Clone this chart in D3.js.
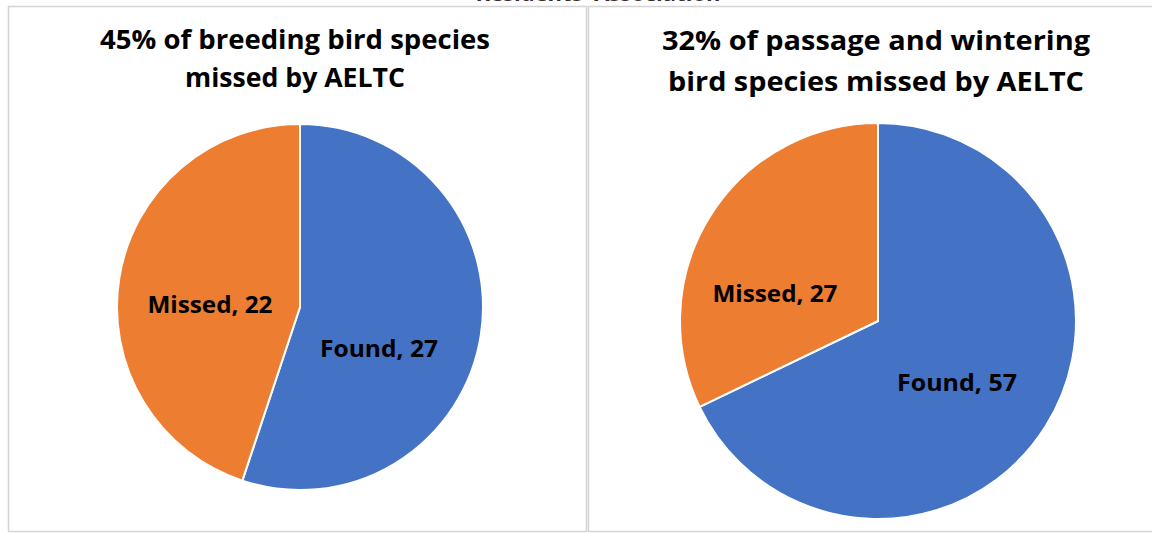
<!DOCTYPE html>
<html>
<head>
<meta charset="utf-8">
<script src="https://cdn.jsdelivr.net/npm/d3@7"></script>
<style>
  body { margin: 0; background: #fff; }
  text { font-family: "Open Sans", "Noto Sans", sans-serif; font-weight: bold; }
</style>
</head>
<body>
<svg id="chart" width="1152" height="534"></svg>
<script>
// chart data
const categories = ["Found", "Missed"];
const breedingValues = [27, 22];
const passageValues = [57, 27];
const breedingTitle = ["45% of breeding bird species", "missed by AELTC"];
const passageTitle = ["32% of passage and wintering", "bird species missed by AELTC"];
const colors = ["#4472C4", "#ED7D31"];

const svg = d3.select("#chart");

// scrap of the page heading above, cut off at the top in the source too
svg.append("text")
  .attr("x", 598).attr("y", 1)
  .attr("text-anchor", "middle")
  .attr("font-size", "22px")
  .attr("fill", "#3a2a26")
  .attr("font-family", "Liberation Serif, serif")
  .text("Residents' Association");

// squeeze text into a width, Calibri-ish
function squeeze(sel, width) {
  sel.attr("textLength", width).attr("lengthAdjust", "spacingAndGlyphs");
}

const panels = [
  { x0: 8.5, x1: 586.5, values: breedingValues, title: breedingTitle,
    cx: 300, cy: 307, r: 183, tcx: 295,
    titleY: [49, 87], titleW: [390, 220],
    labelPos: [[379, 348], [210, 304]], labelW: [118, 125] },
  { x0: 588.5, x1: 1160, values: passageValues, title: passageTitle,
    cx: 878, cy: 321, r: 198, tcx: 876,
    titleY: [50, 91], titleW: [428, 416],
    labelPos: [[957, 382], [775, 293]], labelW: [120, 125] }
];

panels.forEach(p => {
  svg.append("rect")
    .attr("x", p.x0).attr("y", 6.5)
    .attr("width", p.x1 - p.x0).attr("height", 525)
    .attr("fill", "#fff")
    .attr("stroke", "#d4d4d4")
    .attr("stroke-width", 1.5);

  p.title.forEach((line, i) => {
    const t = svg.append("text")
      .attr("x", p.tcx)
      .attr("y", p.titleY[i])
      .attr("text-anchor", "middle")
      .attr("font-size", "27px")
      .attr("fill", "#000")
      .text(line);
    squeeze(t, p.titleW[i]);
  });

  const pie = d3.pie().sort(null).value(d => d);
  const arc = d3.arc().innerRadius(0).outerRadius(p.r);
  const arcs = pie(p.values);

  const g = svg.append("g").attr("transform", `translate(${p.cx},${p.cy})`);
  g.selectAll("path")
    .data(arcs)
    .join("path")
    .attr("d", arc)
    .attr("fill", (d, i) => colors[i])
    .attr("stroke", "#fff")
    .attr("stroke-width", 2);

  arcs.forEach((d, i) => {
    const t = svg.append("text")
      .attr("x", p.labelPos[i][0])
      .attr("y", p.labelPos[i][1])
      .attr("text-anchor", "middle")
      .attr("dominant-baseline", "central")
      .attr("font-size", "23px")
      .attr("fill", "#000")
      .text(`${categories[i]}, ${d.data}`);
    squeeze(t, p.labelW[i]);
  });
});
</script>
</body>
</html>
